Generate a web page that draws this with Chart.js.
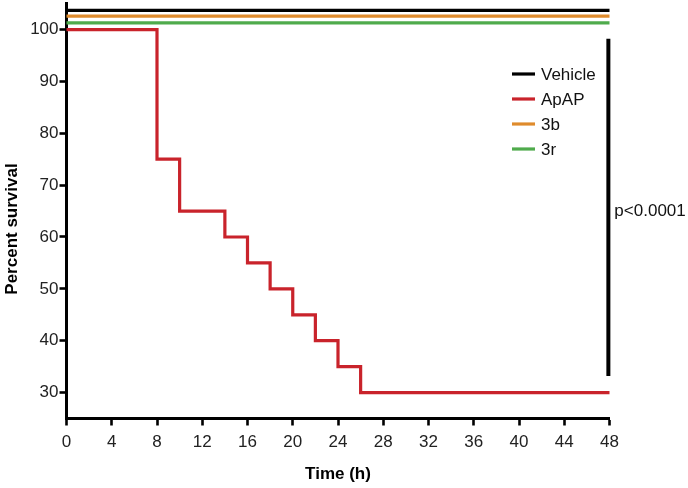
<!DOCTYPE html>
<html><head><meta charset="utf-8">
<script src="https://cdn.jsdelivr.net/npm/chart.js@4.4.1/dist/chart.umd.min.js"></script>
<style>html,body{margin:0;padding:0;background:#fff;} canvas{display:block;}</style>
</head><body>
<canvas id="c" width="688" height="488"></canvas>
<script>
// ---- data ----
const seriesNames = ['Vehicle', 'ApAP', '3b', '3r'];
const seriesColors = ['#000000', '#c9232b', '#df8b2c', '#4fab4c'];
const vehicleTime = [0, 48];
const vehicleSurvival = [103.7, 103.7];
const apapTime = [0, 8, 10, 14, 16, 18, 20, 22, 24, 26, 48];
const apapSurvival = [100, 75, 65, 60, 55, 50, 45, 40, 35, 30, 30];
const b3Time = [0, 48];
const b3Survival = [102.6, 102.6];
const r3Time = [0, 48];
const r3Survival = [101.3, 101.3];
const xTicks = [0, 4, 8, 12, 16, 20, 24, 28, 32, 36, 40, 44, 48];
const yTicks = [30, 40, 50, 60, 70, 80, 90, 100];
const pBarX = [47.9, 47.9];
const pBarY = [98.2, 33.2];
const pText = 'p<0.0001';
const pTextY = 64.9;
const xTitle = 'Time (h)';
const yTitle = 'Percent survival';

const FONT = "'Liberation Sans', Arial, Helvetica, sans-serif";
const pts = (xs, ys) => xs.map((x, i) => ({x: x, y: ys[i]}));

const seriesData = [
  pts(vehicleTime, vehicleSurvival),
  pts(apapTime, apapSurvival),
  pts(b3Time, b3Survival),
  pts(r3Time, r3Survival)
];

const datasets = seriesNames.map((name, i) => ({
  label: name,
  data: seriesData[i],
  borderColor: seriesColors[i],
  backgroundColor: seriesColors[i],
  borderWidth: 3.2,
  pointRadius: 0,
  stepped: 'before',
  fill: false,
  clip: false,
  isSeries: true
}));
datasets.push({
  label: 'pbar',
  data: pts(pBarX, pBarY),
  borderColor: '#000',
  borderWidth: 4,
  pointRadius: 0,
  fill: false,
  clip: false,
  isSeries: false
});

const overlay = {
  id: 'overlay',
  afterDraw(chart) {
    const ctx = chart.ctx;
    const xs = chart.scales.x, ys = chart.scales.y;
    ctx.save();
    // legend
    ctx.font = '17px ' + FONT;
    ctx.textBaseline = 'middle';
    ctx.textAlign = 'left';
    chart.data.datasets.filter(d => d.isSeries).forEach((d, i) => {
      const y = 74 + i * 25;
      ctx.strokeStyle = d.borderColor;
      ctx.lineWidth = 3.2;
      ctx.beginPath();
      ctx.moveTo(512, y);
      ctx.lineTo(535, y);
      ctx.stroke();
      ctx.fillStyle = '#111';
      ctx.fillText(d.label, 541, y + 1);
    });
    // p value
    ctx.fillStyle = '#111';
    ctx.fillText(pText, xs.getPixelForValue(pBarX[0]) + 6, ys.getPixelForValue(pTextY));
    // y title
    ctx.translate(12, 229);
    ctx.rotate(-Math.PI / 2);
    ctx.textAlign = 'center';
    ctx.font = 'bold 17px ' + FONT;
    ctx.fillStyle = '#000';
    ctx.fillText(yTitle, 0, 0);
    ctx.restore();
  }
};

new Chart(document.getElementById('c'), {
  type: 'line',
  data: {datasets: datasets},
  plugins: [overlay],
  options: {
    responsive: false,
    animation: false,
    layout: {padding: {top: 3.6, right: 78.5, left: 0, bottom: 0}},
    plugins: {legend: {display: false}, tooltip: {enabled: false}},
    scales: {
      x: {
        type: 'linear',
        min: 0, max: 48,
        afterBuildTicks: s => { s.ticks = xTicks.map(v => ({value: v})); },
        afterFit: s => { s.height = 488 - 418.5; s.paddingLeft = 0; s.paddingRight = 0; },
        grid: {display: true, drawOnChartArea: false, drawTicks: true, tickLength: 7, tickWidth: 2.6, tickColor: '#000'},
        border: {display: true, color: '#000', width: 3},
        ticks: {font: {family: FONT, size: 17}, color: '#222', padding: 7, maxRotation: 0, autoSkip: false},
        title: {display: true, text: xTitle, font: {family: FONT, size: 17, weight: 'bold'}, color: '#000', padding: {top: 0, bottom: 3}}
      },
      y: {
        type: 'linear',
        min: 25, max: 105,
        afterBuildTicks: s => { s.ticks = yTicks.map(v => ({value: v})); },
        afterFit: s => { s.width = 66.5; s.paddingTop = 0; s.paddingBottom = 0; },
        grid: {display: true, drawOnChartArea: false, drawTicks: true, tickLength: 7, tickWidth: 2.6, tickColor: '#000'},
        border: {display: true, color: '#000', width: 3},
        ticks: {font: {family: FONT, size: 17}, color: '#222', padding: 1}
      }
    }
  }
});
</script>
</body></html>
